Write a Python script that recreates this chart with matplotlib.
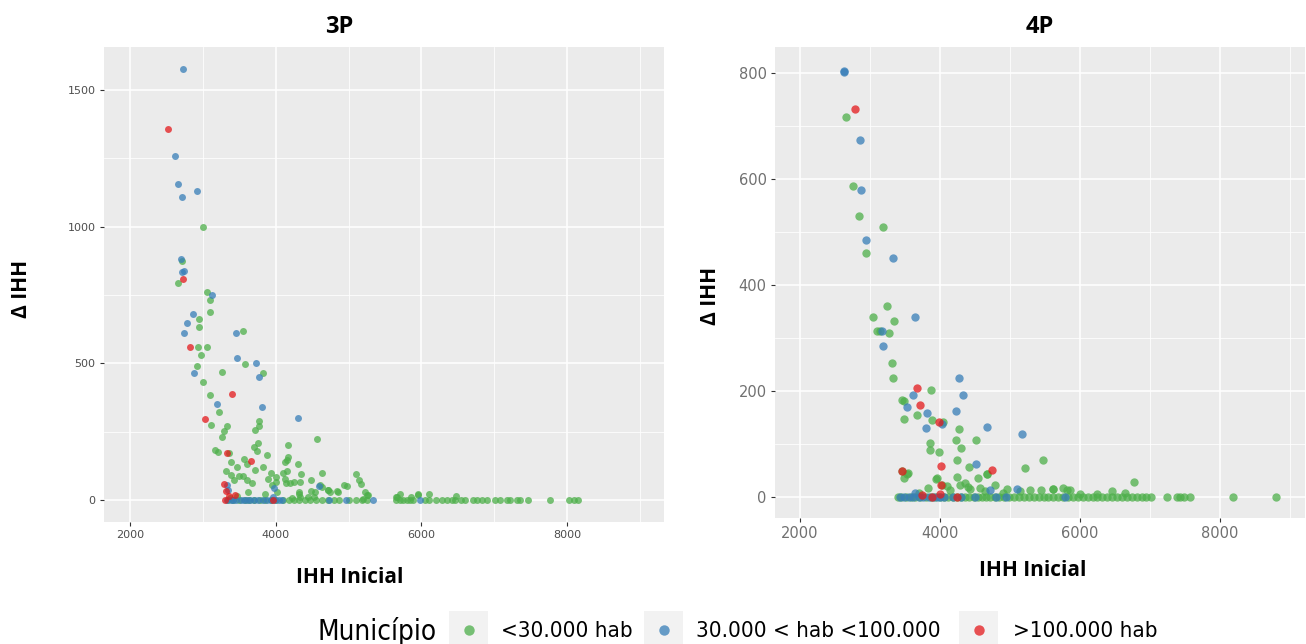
import matplotlib
matplotlib.use("Agg")
import matplotlib.pyplot as plt
from matplotlib.patches import Rectangle
from matplotlib.lines import Line2D

# ---------------------------------------------------------------
# data (IHH inicial, delta IHH)
# ---------------------------------------------------------------
GROUPS = ["<30.000 hab", "30.000 < hab <100.000", ">100.000 hab"]
COLORS = ["#4DAF4A", "#377EB8", "#E41A1C"]

# ---- 3P ----
p3_small_x = [3006, 2714, 2663, 3057, 3094, 3103, 2943, 2943, 3551, 2938, 3057, 2975, 3579, 3830,
              2915, 3267, 2997, 3094, 3227, 3107, 3327, 3295, 3263, 3775, 3775, 3720, 4567, 3761,
              3698, 3747, 4173, 3167, 3212, 3355, 4169, 4151, 4132, 3885, 3569, 4302, 3391, 3601,
              3720, 3821, 3469, 3313, 3939, 4096, 4159, 4632, 3391, 3500, 3547, 3606, 3670, 4004,
              4004, 4128, 4137, 3890, 3945, 3423, 4347, 4338, 4256, 4196, 4485, 5098, 5143, 5166,
              4937, 4975, 4608, 4640, 4713, 4745, 4837, 4480, 4521, 4320, 4334, 5226, 5249, 5203,
              5651, 5706, 5958, 6109, 5853, 6471,
              3373, 3465, 3624, 3853, 4014, 4220, 4327, 4448, 4539, 4723, 4860, 5270, 5661, 5957,
              3350, 3420, 3500, 3580, 3640, 3700, 3780, 3850, 3930, 4010, 4100, 4180, 4250, 4320,
              4400, 4470, 4550, 4640, 4720, 4800, 4870, 5000, 5100, 5180, 5260, 5650, 5700, 5750,
              5800, 5845, 5880, 6050, 6110, 6200, 6280, 6350, 6415, 6460, 6550, 6600, 6710, 6760,
              6830, 6900, 7010, 7080, 7170, 7220, 7310, 7350, 7470, 7770, 8030, 8090, 8150]
p3_small_y = [1000, 875, 793, 762, 732, 687, 661, 632, 619, 559, 560, 530, 499, 464,
              491, 467, 433, 383, 322, 276, 272, 252, 232, 291, 272, 256, 224, 210,
              195, 180, 200, 182, 177, 174, 158, 146, 138, 165, 152, 133, 141, 134,
              111, 123, 122, 107, 99, 98, 106, 101, 91, 90, 87, 73, 61, 85,
              67, 76, 61, 78, 54, 73, 94, 65, 65, 61, 72, 96, 73, 58,
              55, 52, 54, 49, 37, 29, 34, 34, 12, 23, 12, 28, 18, 6,
              12, 23, 23, 23, 10, 15,
              8, 16, 30, 24, 30, 8, 30, 12, 30, 37, 30, 20, 12, 20,
              0, 0, 0, 0, 0, 0, 0, 0, 0, 0, 0, 0, 0, 0,
              0, 0, 0, 0, 0, 0, 0, 0, 0, 0, 0, 0, 0, 0,
              0, 0, 0, 0, 0, 0, 0, 0, 0, 0, 0, 0, 0, 0,
              0, 0, 0, 0, 0, 0, 0, 0, 0, 0, 0, 0, 0]

p3_mid_x = [2727, 2618, 2663, 2920, 2709, 2695, 2741, 2709, 3121, 2865, 2778, 2741, 3455, 3469,
            3734, 3778, 2883, 3199, 3816, 4310, 3336, 3350, 3977, 3968, 4600,
            3332, 3380, 3420, 3460, 3520, 3560, 3600, 3650, 3700, 3760, 3820, 3880, 3940, 3990,
            4040, 4082, 4727, 4965, 5336, 5981]
p3_mid_y = [1577, 1259, 1156, 1131, 1109, 881, 838, 833, 750, 680, 646, 612, 611, 519,
            502, 449, 464, 353, 339, 300, 57, 37, 43, 12, 53,
            0, 0, 0, 0, 0, 0, 0, 0, 0, 0, 0, 0, 0, 0,
            0, 0, 0, 0, 0, 0]

p3_big_x = [2522, 2727, 2824, 3400, 3034, 3327, 3665, 3290, 3318, 3355, 3446, 3300, 3960]
p3_big_y = [1357, 808, 560, 388, 295, 172, 144, 58, 34, 15, 17, 0, 0]

# ---- 4P ----
p4_small_x = [2662, 2762, 2848, 3186, 2943, 3048, 3238, 3347, 3095, 3147, 3271, 3314, 3324, 3871,
              3457, 3481, 3676, 3481, 3881, 4048, 4276, 4229, 4519, 3857, 3857, 4295, 3990, 4238,
              5476, 4419, 5214, 4676, 3452, 3548, 3490, 4248, 3943, 4543, 6767, 5610, 5762, 5857,
              6453, 6643,
              3524, 3953, 4024, 4286, 4357, 4667, 4786, 4571, 3835, 4143, 4429, 4952, 5286, 5619,
              5809, 3700, 4100, 4400, 4650, 4900, 5150, 5450, 6000, 6250,
              3400, 3450, 3520, 3580, 3650, 3720, 3800, 3870, 3930, 4000, 4060, 4120, 4180, 4240,
              4300, 4360, 4420, 4480, 4540, 4600, 4660, 4720, 4780, 4850, 4920, 4990, 5060, 5130,
              5200, 5270, 5340, 5410, 5480, 5550, 5620, 5690, 5760, 5830, 5900, 5970, 6040, 6110,
              6180, 6250, 6320, 6390, 6460, 6530, 6600, 6670, 6740, 6810, 6880, 6950, 7020, 7240,
              7380, 7430, 7480, 7570, 8180, 8800]
p4_small_y = [716, 587, 530, 509, 460, 339, 360, 331, 313, 313, 309, 252, 225, 202,
              183, 180, 154, 146, 144, 141, 127, 108, 108, 101, 89, 92, 84, 69,
              69, 57, 55, 43, 48, 44, 35, 38, 33, 36, 28, 15, 16, 13,
              10, 7,
              43, 35, 23, 23, 26, 43, 23, 16, 16, 13, 15, 15, 13, 15,
              13, 8, 20, 18, 10, 8, 10, 12, 6, 5,
              0, 0, 0, 0, 0, 0, 0, 0, 0, 0, 0, 0, 0, 0,
              0, 0, 0, 0, 0, 0, 0, 0, 0, 0, 0, 0, 0, 0,
              0, 0, 0, 0, 0, 0, 0, 0, 0, 0, 0, 0, 0, 0,
              0, 0, 0, 0, 0, 0, 0, 0, 0, 0, 0, 0, 0, 0,
              0, 0, 0, 0, 0, 0]

p4_mid_x = [2629, 2622, 2852, 2867, 2943, 3324, 3638, 3171, 3190, 4267, 3610, 4333, 3524, 3810,
            4224, 4033, 3805, 4671, 5167, 4510, 3643, 4714, 5095, 5786,
            3430, 3480, 3560, 3620, 3700, 3760, 3850, 3900, 3960, 4000, 4060, 4180, 4300, 4500,
            4800, 4950]
p4_mid_y = [802, 804, 673, 579, 484, 451, 339, 313, 285, 224, 193, 192, 170, 159,
            161, 137, 129, 131, 118, 62, 7, 12, 15, 0,
            0, 0, 0, 0, 0, 0, 0, 0, 0, 0, 0, 0, 0, 0,
            0, 0]

p4_big_x = [2790, 3671, 3714, 3990, 4014, 4738, 3452, 4014, 3880, 3750, 4250, 4000]
p4_big_y = [731, 205, 174, 141, 59, 50, 48, 23, 0, 3, 0, 5]

PANEL_BG = "#EBEBEB"


def gg_axes(ax, xlim, ylim, xticks, yticks, xminor, yminor, tick_size, tick_color):
    ax.set_facecolor(PANEL_BG)
    ax.set_xlim(*xlim)
    ax.set_ylim(*ylim)
    ax.set_xticks(xticks)
    ax.set_yticks(yticks)
    ax.set_xticks(xminor, minor=True)
    ax.set_yticks(yminor, minor=True)
    ax.grid(which="major", color="white", linewidth=1.1)
    ax.grid(which="minor", color="white", linewidth=0.55)
    ax.set_axisbelow(True)
    for s in ax.spines.values():
        s.set_visible(False)
    ax.tick_params(which="major", length=3, color="#333333", labelcolor=tick_color,
                   labelsize=tick_size, pad=3)
    ax.tick_params(which="minor", length=0)


def labels(ax, title, title_x, xlab_xy, ylab_xy):
    ax.set_title(title, fontsize=17, fontweight="bold", family="Open Sans", x=title_x, pad=10)
    ax.set_xlabel("IHH Inicial", fontsize=15, fontweight="bold", family="Open Sans")
    ax.set_ylabel("Δ IHH", fontsize=15, fontweight="bold", family="Open Sans")
    ax.xaxis.set_label_coords(*xlab_xy)
    ax.yaxis.set_label_coords(*ylab_xy)


fig = plt.figure(figsize=(13.06, 6.44), dpi=100)

# left panel: 3P
ax1 = fig.add_axes([0.0796, 0.1894, 0.4288, 0.7376])
gg_axes(ax1, (1643, 9330), (-80, 1657), [2000, 4000, 6000, 8000], [0, 500, 1000, 1500],
        [3000, 5000, 7000, 9000], [250, 750, 1250], 8, "#4D4D4D")
for (xs, ys), c in zip([(p3_small_x, p3_small_y), (p3_mid_x, p3_mid_y), (p3_big_x, p3_big_y)], COLORS):
    ax1.scatter(xs, ys, s=25, color=c, alpha=0.75, linewidths=0)
labels(ax1, "3P", 0.42, (0.439, -0.095), (-0.128, 0.49))

# right panel: 4P
ax2 = fig.add_axes([0.5934, 0.1957, 0.4058, 0.7314])
gg_axes(ax2, (1643, 9214), (-40, 849), [2000, 4000, 6000, 8000], [0, 200, 400, 600, 800],
        [3000, 5000, 7000, 9000], [100, 300, 500, 700], 10.5, "#707070")
for (xs, ys), c in zip([(p4_small_x, p4_small_y), (p4_mid_x, p4_mid_y), (p4_big_x, p4_big_y)], COLORS):
    ax2.scatter(xs, ys, s=36, color=c, alpha=0.75, linewidths=0)
labels(ax2, "4P", 0.5, (0.487, -0.09), (-0.102, 0.471))

# legend drawn by hand along the bottom, ggplot style
W, H = 1306.0, 644.0
fig.text(317 / W, 1 - 631 / H, "Município", fontsize=20, va="center", ha="left",
         fontstretch="condensed")
key_left = [449, 644, 959]
text_left = [501, 696, 1013]
for kx, tx, c, lab in zip(key_left, text_left, COLORS, GROUPS):
    fig.add_artist(Rectangle((kx / W, 0), 39 / W, 33 / H, transform=fig.transFigure,
                             facecolor="#F2F2F2", edgecolor="none"))
    fig.add_artist(Line2D([(kx + 19.5) / W], [1 - 630 / H], transform=fig.transFigure,
                          marker="o", markersize=7.5, color=c, alpha=0.75, linestyle="none",
                          markeredgewidth=0))
    fig.text(tx / W, 1 - 631 / H, lab, fontsize=16, va="center", ha="left",
             fontstretch="condensed")

fig.savefig("out.png", dpi=100)
